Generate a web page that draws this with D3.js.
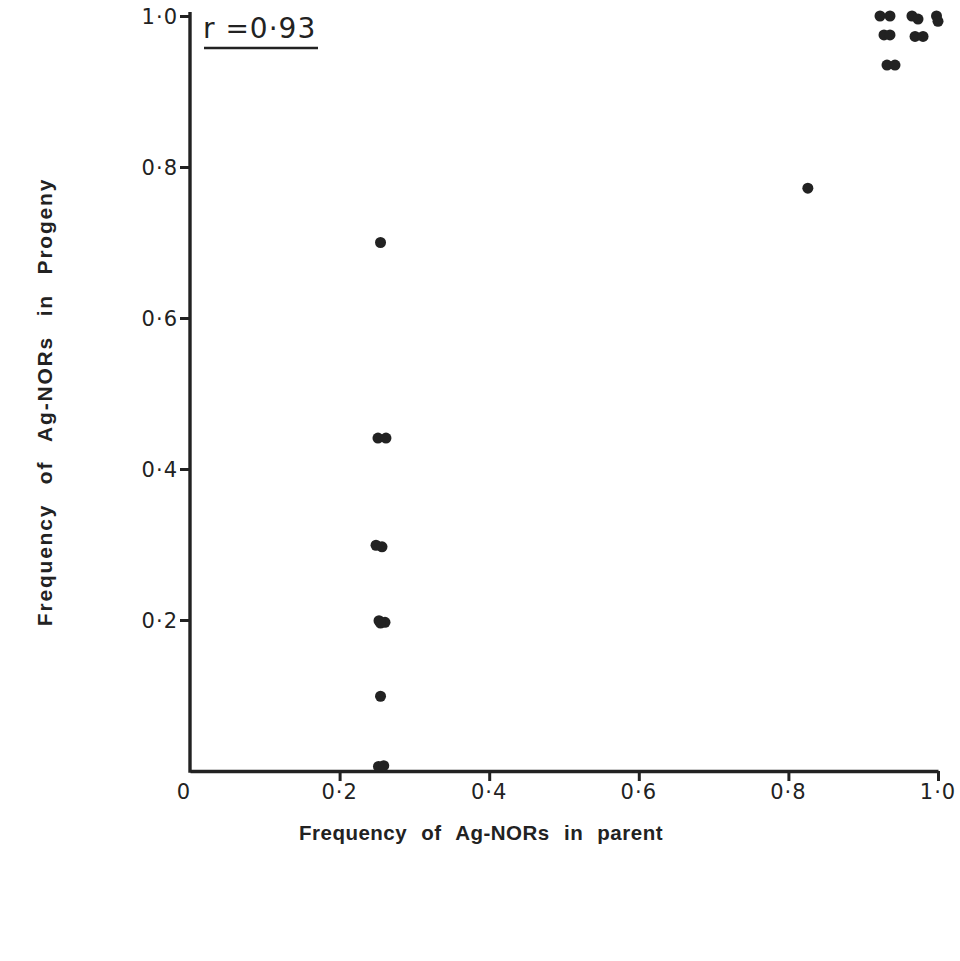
<!DOCTYPE html>
<html>
<head>
<meta charset="utf-8">
<script src="https://cdn.jsdelivr.net/npm/d3@7"></script>
<style>
  html, body { margin: 0; padding: 0; background: #fff; }
  svg { display: block; }
</style>
</head>
<body>
<script>
// Frequency of Ag-NORs: parent (x) vs progeny (y)
const parentFreq = [
  0.2547, 0.2547, 0.2513, 0.2620, 0.2487, 0.2567, 0.2527, 0.2607, 0.2547, 0.2520, 0.2590,
  0.826,
  0.9225, 0.9358, 0.9652, 0.9733, 0.998, 1.000,
  0.9278, 0.9358, 0.9693, 0.980, 0.9318, 0.9425
];
const progenyFreq = [
  0.700, 0.099, 0.441, 0.441, 0.299, 0.297, 0.199, 0.197, 0.196, 0.006, 0.007,
  0.772,
  1.000, 1.000, 1.000, 0.996, 1.000, 0.993,
  0.975, 0.975, 0.973, 0.973, 0.935, 0.935
];
const xTicks = [0, 0.2, 0.4, 0.6, 0.8, 1.0];
const yTicks = [0.2, 0.4, 0.6, 0.8, 1.0];
const tickText = ["0", "0·2", "0·4", "0·6", "0·8", "1·0"];
const corrLabel = "r =0·93";
const xTitle = "Frequency of Ag-NORs in parent";
const yTitle = "Frequency of Ag-NORs in Progeny";

const W = 960, H = 961;
const ink = "#222";
const svg = d3.select("body").append("svg").attr("width", W).attr("height", H);

const x = d3.scaleLinear().domain([0, 1]).range([190, 938]);
const y = d3.scaleLinear().domain([0, 1]).range([771, 16]);

const fmt = v => tickText[Math.round(v * 5)];

// x axis
const gx = svg.append("g").attr("transform", `translate(0,${y(0)})`)
  .call(d3.axisBottom(x).tickValues(xTicks.slice(1)).tickSize(10).tickSizeOuter(0).tickFormat(""));
gx.select(".domain").attr("stroke", ink).attr("stroke-width", 3.4);
gx.selectAll(".tick line").attr("stroke", ink).attr("stroke-width", 3);

// y axis
const gy = svg.append("g").attr("transform", `translate(${x(0)},0)`)
  .call(d3.axisLeft(y).tickValues(yTicks).tickSize(10).tickSizeOuter(0).tickFormat(""));
gy.select(".domain").attr("stroke", ink).attr("stroke-width", 3.4)
  .attr("d", `M0,${y(1) - 4}V${y(0) + 1.7}`);
gy.selectAll(".tick line").attr("stroke", ink).attr("stroke-width", 3);

// tick labels
svg.append("g").selectAll("text").data(xTicks).join("text")
  .attr("x", d => x(d) + (d === 0 ? -6 : 0))
  .attr("y", 799)
  .attr("text-anchor", "middle")
  .attr("font-family", "'DejaVu Sans', sans-serif")
  .attr("font-size", 21)
  .attr("letter-spacing", 1)
  .attr("fill", ink)
  .text(fmt);

svg.append("g").selectAll("text").data(yTicks).join("text")
  .attr("x", 178)
  .attr("y", d => y(d) + 7.5)
  .attr("text-anchor", "end")
  .attr("font-family", "'DejaVu Sans', sans-serif")
  .attr("font-size", 21)
  .attr("letter-spacing", 1)
  .attr("fill", ink)
  .text(fmt);

// correlation label
svg.append("text")
  .attr("x", 203).attr("y", 38)
  .attr("font-family", "'DejaVu Sans', sans-serif")
  .attr("font-size", 28)
  .attr("letter-spacing", 1)
  .attr("fill", ink)
  .text(corrLabel);
svg.append("line")
  .attr("x1", 204).attr("x2", 318).attr("y1", 48).attr("y2", 48)
  .attr("stroke", ink).attr("stroke-width", 2.5);

// data points
svg.append("g").selectAll("circle").data(parentFreq).join("circle")
  .attr("cx", d => x(d))
  .attr("cy", (d, i) => y(progenyFreq[i]))
  .attr("r", 5.5)
  .attr("fill", ink);

// axis titles
svg.append("text")
  .attr("x", 481).attr("y", 840)
  .attr("text-anchor", "middle")
  .attr("font-family", "'Liberation Sans', Arial, sans-serif")
  .attr("font-weight", "bold")
  .attr("font-size", 20.5)
  .attr("word-spacing", 8)
  .attr("letter-spacing", 0.5)
  .attr("fill", ink)
  .text(xTitle);

svg.append("text")
  .attr("transform", `translate(52,${402}) rotate(-90)`)
  .attr("text-anchor", "middle")
  .attr("font-family", "'Liberation Sans', Arial, sans-serif")
  .attr("font-weight", "bold")
  .attr("font-size", 21)
  .attr("word-spacing", 12)
  .attr("letter-spacing", 1.8)
  .attr("fill", ink)
  .text(yTitle);
</script>
</body>
</html>
